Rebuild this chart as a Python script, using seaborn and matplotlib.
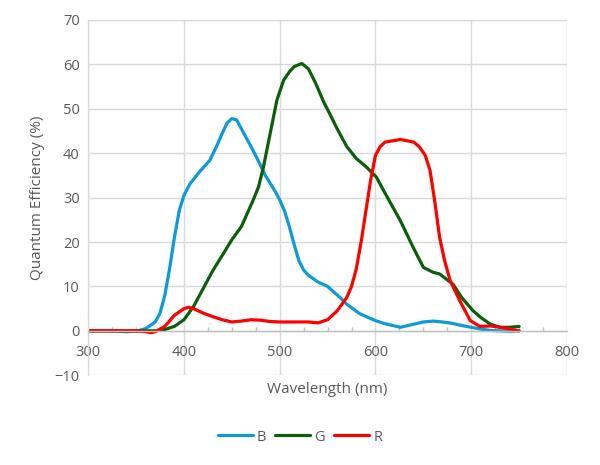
import matplotlib
matplotlib.use("Agg")
import matplotlib.pyplot as plt
from matplotlib.ticker import MultipleLocator
import pandas as pd
import seaborn as sns

# 파장별 양자 효율
wl_b = [300, 320, 340, 350, 360, 370, 375, 380, 385, 390, 395, 400, 406, 415, 427, 435, 440, 445,
        450, 455, 460, 470, 476, 485, 495, 500, 505, 510, 515, 520, 525, 530, 540, 550, 563, 570,
        584, 600, 610, 626, 640, 650, 660, 670, 680, 690, 700, 710, 720, 730, 740, 750]
qe_b = [0, 0, -0.2, -0.1, 0.5, 2, 4, 8, 14, 21, 27, 30.5, 33, 35.5, 38.4, 42, 44.5, 46.8,
        47.8, 47.5, 45.5, 41.5, 39, 35, 31.5, 29.5, 27, 23.5, 19.5, 15.8, 13.7, 12.5, 11, 10, 7.5, 6,
        3.8, 2.3, 1.6, 0.8, 1.5, 2.0, 2.2, 2.0, 1.7, 1.2, 0.8, 0.4, 0.1, 0, -0.1, 0]

wl_g = [300, 340, 370, 380, 390, 400, 410, 420, 430, 440, 450, 460, 472, 478, 483, 490, 497, 504,
        510, 515, 523, 530, 537, 546, 552, 560, 570, 580, 590, 601, 610, 626, 640, 650, 660, 667,
        681, 690, 702, 710, 720, 730, 740, 750]
qe_g = [0, 0, 0, 0.3, 1, 2.5, 5.5, 9.5, 13.5, 17, 20.5, 23.5, 29.3, 32.5, 36.9, 44.4, 51.9, 56.4,
        58.3, 59.5, 60.2, 59, 56, 51.5, 49, 45.5, 41.5, 38.8, 37, 34.6, 31, 24.8, 18.5, 14.3, 13.2, 12.8,
        10.5, 7.5, 4.5, 3, 1.5, 0.8, 0.8, 1]

wl_r = [300, 350, 360, 365, 370, 380, 390, 400, 405, 410, 420, 430, 440, 450, 460, 470, 480, 490,
        500, 510, 520, 530, 540, 550, 560, 570, 575, 580, 585, 590, 595, 600, 605, 610, 626, 640,
        646, 652, 657, 662, 667, 672, 678, 688, 699, 709, 720, 730, 740, 750]
qe_r = [0, 0, -0.2, -0.4, -0.2, 1, 3.5, 5, 5.3, 5, 4, 3.2, 2.5, 2, 2.2, 2.5, 2.4, 2.1,
        2, 2, 2, 2, 1.8, 2.5, 4.5, 7.5, 10, 14, 20, 27, 34, 39.5, 41.5, 42.5, 43.1, 42.5,
        41.4, 39.5, 36.1, 29, 21, 16, 11.3, 6.8, 2.3, 1.0, 1.1, 0.8, 0.4, 0]

bands = ["B", "G", "R"]
colors = {"B": "#0E9AD7", "G": "#0B5E0B", "R": "#FF0000"}

df = pd.concat([
    pd.DataFrame({"wl": wl_b, "qe": qe_b, "band": "B"}),
    pd.DataFrame({"wl": wl_g, "qe": qe_g, "band": "G"}),
    pd.DataFrame({"wl": wl_r, "qe": qe_r, "band": "R"}),
])

sns.set_theme(style="white")
plt.rcParams["font.family"] = ["Open Sans", "DejaVu Sans"]

fig = plt.figure(figsize=(6, 4.65), dpi=100)
ax = fig.add_axes([0.147, 0.193, 0.798, 0.764])

sns.lineplot(data=df, x="wl", y="qe", hue="band", hue_order=bands, palette=colors,
             linewidth=2.3, ax=ax, legend=False)
for ln in ax.lines:
    ln.set_solid_joinstyle("round")
    ln.set_solid_capstyle("round")

ax.set_xlim(300, 800)
ax.set_ylim(-10, 70)
ax.xaxis.set_major_locator(MultipleLocator(100))
ax.xaxis.set_minor_locator(MultipleLocator(25))
ax.yaxis.set_major_locator(MultipleLocator(10))
ax.grid(True, which="major", color="#d9d9d9", linewidth=1)
ax.set_axisbelow(True)

for s in ["top", "right"]:
    ax.spines[s].set_visible(False)
ax.spines["bottom"].set_position(("data", 0))
ax.spines["bottom"].set_color("#bfbfbf")
ax.spines["bottom"].set_linewidth(1)
ax.spines["left"].set_color("#d9d9d9")
ax.spines["left"].set_linewidth(1)

ax.tick_params(axis="x", which="major", direction="out", length=4, color="#bfbfbf",
               labelsize=10.5, labelcolor="#595959", pad=6)
ax.tick_params(axis="x", which="minor", direction="in", length=3, color="#bfbfbf", bottom=True)
ax.tick_params(axis="y", length=0, labelsize=10.5, labelcolor="#595959", pad=6)

ax.set_xlabel("Wavelength (nm)", fontsize=11, color="#595959", va="center")
ax.set_ylabel("Quantum Efficiency (%)", fontsize=11, color="#595959", va="center")
ax.xaxis.set_label_coords(0.5, -0.04)
ax.yaxis.set_label_coords(-0.105, 0.5)

handles = [plt.Line2D([], [], color=colors[b], linewidth=2.3) for b in bands]
leg = fig.legend(handles, bands, loc="center", bbox_to_anchor=(0.5, 0.06), ncol=3,
                 frameon=False, fontsize=10.5, handlelength=2.4, columnspacing=0.6,
                 handletextpad=0.3)
for t in leg.get_texts():
    t.set_color("#595959")

fig.savefig("out.png", dpi=100)
